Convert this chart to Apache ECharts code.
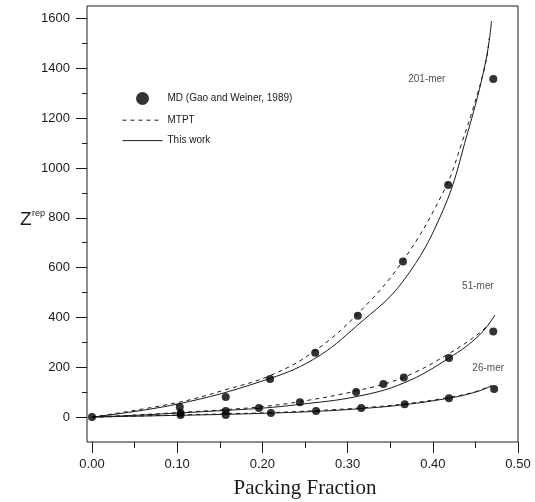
<!DOCTYPE html>
<html>
<head>
<meta charset="utf-8">
<script src="https://cdn.jsdelivr.net/npm/echarts@6/dist/echarts.min.js"></script>
<style>
  html, body { margin: 0; padding: 0; background: #fff; }
  #chart { width: 535px; height: 502px; }
</style>
</head>
<body>
<div id="chart"></div>
<script>
// MD simulation points (Gao and Weiner, 1989)
const md201 = [[0, 0], [0.103, 40], [0.157, 81], [0.209, 153], [0.262, 258], [0.312, 407], [0.365, 624], [0.418, 932], [0.471, 1357]];
const md51 = [[0.104, 16], [0.157, 24], [0.196, 36], [0.244, 60], [0.310, 101], [0.342, 133], [0.366, 159], [0.419, 237], [0.471, 344]];
const md26 = [[0.104, 8], [0.157, 8], [0.210, 16], [0.263, 24], [0.316, 36], [0.367, 52], [0.419, 76], [0.472, 113]];

// MTPT (dashed)
const mtpt201 = [[0, 0], [0.10, 58], [0.157, 110], [0.21, 168], [0.26, 262], [0.312, 415], [0.365, 628], [0.414, 915], [0.434, 1100], [0.453, 1304], [0.463, 1437], [0.466, 1520]];
const mtpt51 = [[0, 0], [0.05, 8], [0.10, 18], [0.157, 30], [0.20, 42], [0.244, 62], [0.31, 105], [0.366, 160], [0.419, 255], [0.455, 338], [0.467, 378]];
const mtpt26 = [[0, 0], [0.10, 8], [0.157, 13], [0.21, 18], [0.263, 26], [0.316, 37], [0.367, 53], [0.419, 79], [0.45, 102], [0.469, 127]];

// This work (solid)
const work201 = [[0, 0], [0.10, 52], [0.20, 145], [0.26, 232], [0.312, 370], [0.365, 545], [0.412, 830], [0.441, 1143], [0.462, 1425], [0.469, 1590]];
const work51 = [[0, 0], [0.05, 7], [0.10, 16], [0.157, 27], [0.20, 36], [0.244, 51], [0.31, 82], [0.366, 137], [0.419, 237], [0.455, 330], [0.473, 410]];
const work26 = [[0, 0], [0.10, 7], [0.157, 11], [0.21, 16], [0.263, 23], [0.316, 34], [0.367, 50], [0.419, 76], [0.45, 100], [0.469, 125]];

// chain length annotations
const chainLabels = [
  { name: '201-mer', value: [0.393, 1357] },
  { name: '51-mer', value: [0.453, 527] },
  { name: '26-mer', value: [0.465, 197] }
];

const xTicks = { min: 0, max: 0.5, interval: 0.1 };
const yTicks = { min: 0, max: 1600, interval: 200 };

const MD = 'MD (Gao and Weiner, 1989)';
const MT = 'MTPT';
const TW = 'This work';

const ink = '#1a1a1a';
const sans = 'Liberation Sans, Arial, sans-serif';

// plot frame: x from 87 to 518 px, y from 6 to 442 px (values -100 .. 1650)
const pxPerUnit = 436 / 1750;
const xMin = -5 / 852;

let chart = echarts.init(document.getElementById('chart'));

function lineSeries(name, data, dashed) {
  return {
    name: name,
    type: 'line',
    xAxisIndex: 0,
    yAxisIndex: 0,
    data: data,
    symbol: 'none',
    showSymbol: false,
    smooth: 0.4,
    lineStyle: { color: ink, width: 1, type: dashed ? [4, 4] : 'solid' },
    itemStyle: { color: ink },
    z: 2
  };
}

function dotSeries(data) {
  return {
    name: MD,
    type: 'scatter',
    xAxisIndex: 0,
    yAxisIndex: 0,
    data: data,
    symbol: 'circle',
    symbolSize: 8,
    itemStyle: { color: '#000' },
    z: 3
  };
}

option = {
  animation: false,
  backgroundColor: '#fff',
  grid: [
    { left: 87, right: 17, top: 6, bottom: 60, outerBoundsMode: 'none', show: true, borderColor: ink, borderWidth: 1, backgroundColor: 'transparent' },
    { left: 92, right: 17, top: 6, bottom: 60, outerBoundsMode: 'none' },
    { left: 87, right: 17, top: 6 + 50 * pxPerUnit, bottom: 60 + 100 * pxPerUnit, outerBoundsMode: 'none' }
  ],
  xAxis: [
    { gridIndex: 0, type: 'value', min: xMin, max: 0.5, axisLine: { show: false }, axisTick: { show: false }, axisLabel: { show: false }, splitLine: { show: false } },
    {
      gridIndex: 1, type: 'value', min: xTicks.min, max: xTicks.max, interval: xTicks.interval,
      axisLine: { show: false },
      axisTick: { show: true, length: 11, lineStyle: { color: ink } },
      minorTick: { show: true, splitNumber: 2, length: 6, lineStyle: { color: ink } },
      axisLabel: { margin: 16, fontSize: 13, color: ink, fontFamily: sans, formatter: v => v.toFixed(2) },
      splitLine: { show: false },
      name: 'Packing Fraction',
      nameLocation: 'middle',
      nameGap: 36,
      nameTextStyle: { fontSize: 21, color: ink, fontFamily: 'Liberation Serif, Times New Roman, serif' }
    },
    { gridIndex: 2, type: 'value', min: 0, max: 0.5, show: false }
  ],
  yAxis: [
    { gridIndex: 0, type: 'value', min: -100, max: 1650, axisLine: { show: false }, axisTick: { show: false }, axisLabel: { show: false }, splitLine: { show: false } },
    { gridIndex: 1, type: 'value', min: 0, max: 1, show: false },
    {
      gridIndex: 2, type: 'value', min: yTicks.min, max: yTicks.max, interval: yTicks.interval,
      axisLine: { show: false },
      axisTick: { show: true, length: 11, lineStyle: { color: ink } },
      minorTick: { show: true, splitNumber: 2, length: 5, lineStyle: { color: ink } },
      axisLabel: { margin: 17, fontSize: 13, color: ink, fontFamily: sans, formatter: v => String(v) },
      splitLine: { show: false }
    }
  ],
  legend: {
    orient: 'vertical',
    left: 117,
    top: 87,
    itemWidth: 40,
    itemHeight: 13,
    itemGap: 10,
    selectedMode: false,
    data: [
      { name: MD },
      { name: MT, itemStyle: { opacity: 0 }, lineStyle: { width: 1 } },
      { name: TW, itemStyle: { opacity: 0 }, lineStyle: { width: 1 } }
    ],
    textStyle: { fontSize: 10, color: ink, fontFamily: sans }
  },
  graphic: [
    { type: 'text', left: 20, top: 210, style: { text: 'Z', fontSize: 19, fill: ink, fontFamily: sans } },
    { type: 'text', left: 32, top: 209, style: { text: 'rep', fontSize: 9, fill: ink, fontFamily: sans } }
  ],
  series: [
    lineSeries(MT, mtpt201, true),
    lineSeries(MT, mtpt51, true),
    lineSeries(MT, mtpt26, true),
    lineSeries(TW, work201, false),
    lineSeries(TW, work51, false),
    lineSeries(TW, work26, false),
    dotSeries(md201),
    dotSeries(md51),
    dotSeries(md26),
    {
      name: 'labels',
      type: 'scatter',
      xAxisIndex: 0,
      yAxisIndex: 0,
      data: chainLabels,
      symbolSize: 0,
      silent: true,
      label: { show: true, position: 'inside', formatter: '{b}', fontSize: 10, color: ink, fontFamily: sans }
    }
  ]
};

chart.setOption(option);
</script>
</body>
</html>
